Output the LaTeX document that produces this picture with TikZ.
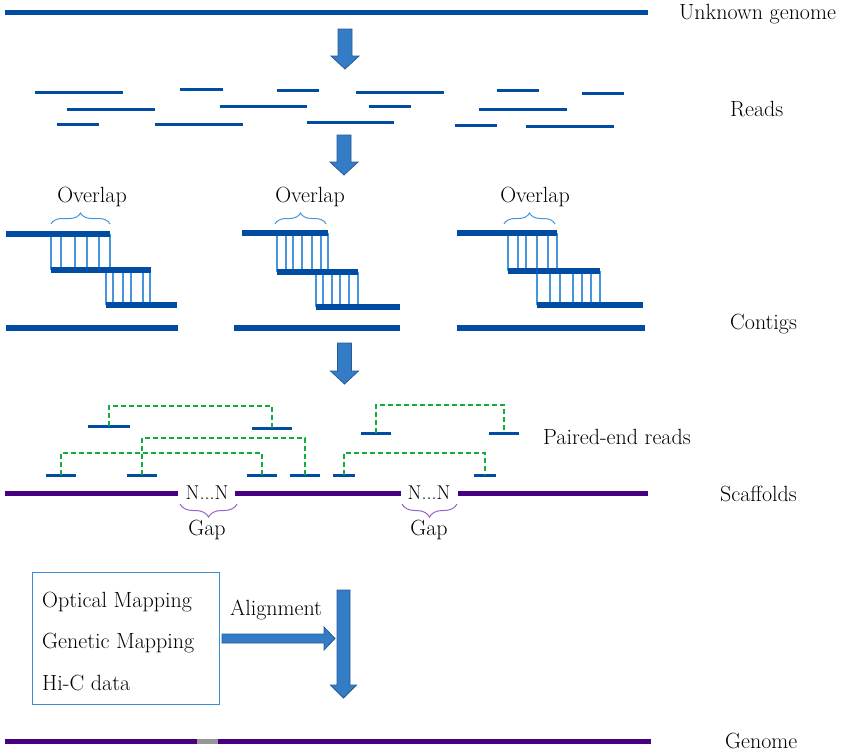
\documentclass[tikz,border=0pt]{standalone}
\usetikzlibrary{decorations.pathreplacing}
\definecolor{rd}{RGB}{0,76,163}
\definecolor{arrfill}{RGB}{52,125,198}
\definecolor{arrdraw}{RGB}{40,90,150}
\definecolor{lb}{RGB}{70,150,220}
\definecolor{pur}{RGB}{72,0,130}
\definecolor{lpur}{RGB}{150,100,200}
\definecolor{pegreen}{RGB}{20,170,60}
\definecolor{gapgray}{RGB}{150,150,150}
\definecolor{boxblue}{RGB}{60,140,210}
\newcommand\vArr[5]{\draw[bigarrow] (#1-#5,#2) -- (#1+#5,#2) -- (#1+#5,#3) -- (#1+2*#5,#3) -- (#1,#4) -- (#1-2*#5,#3) -- (#1-#5,#3) -- cycle;}
\begin{document}
\begin{tikzpicture}[x=1pt,y=-1pt,
 lbl/.style={font=\fontsize{22}{26}\selectfont, inner sep=0pt},
 read/.style={rd, line width=3pt},
 thickread/.style={rd, line width=5.5pt},
 link/.style={lb, line width=1.1pt},
 bigarrow/.style={fill=arrfill, draw=arrdraw, line width=0.8pt, line join=miter},
 pe/.style={pegreen, line width=1.8pt, dash pattern=on 5pt off 3pt},
 scaf/.style={pur, line width=5pt},
 ovbrace/.style={lb, line width=1pt, decorate, decoration={brace, amplitude=11pt}},
 gapbrace/.style={lpur, line width=1pt, decorate, decoration={brace, amplitude=13pt, mirror}},
]
\useasboundingbox (0,0) rectangle (850,753);

% ---------- Unknown genome ----------
\draw[rd, line width=5pt] (5,12) -- (648,12);
\node[lbl, anchor=west] (unk) at (679,14) {Unknown genome};
\vArr{345}{29}{56}{69}{7}

% ---------- Reads ----------
\foreach \a/\b/\y in {35/123/92, 180/223/89, 277/319/90, 356/444/92, 497/539/90, 582/624/93,
  67/155/109, 220/307/106, 369/411/106, 479/567/109,
  57/99/124, 155/243/124, 307/394/122, 455/497/125, 526/614/126}
  \draw[read] (\a,\y) -- (\b,\y);
\node[lbl, anchor=west] (reads) at (730,109) {Reads};
\vArr{344}{135}{162}{175}{7}

% ---------- Contigs ----------
% group 1
\foreach \x in {51,61,75,87,99,110} \draw[link] (\x,234) -- (\x,270);
\foreach \x in {106,113,123,131,143,150} \draw[link] (\x,270) -- (\x,305);
\draw[thickread] (6,234) -- (110,234);
\draw[thickread] (51,270) -- (151,270);
\draw[thickread] (106,305) -- (177,305);
\draw[thickread] (6,328) -- (178,328);
\draw[ovbrace] (51,224) -- (110,224);
\node[lbl] (ov1) at (92,197) {Overlap};
% group 2
\foreach \x in {277,286,293,302,312,321,328} \draw[link] (\x,233) -- (\x,272);
\foreach \x in {316,323,332,340,349,358} \draw[link] (\x,272) -- (\x,307);
\draw[thickread] (242,233) -- (328,233);
\draw[thickread] (277,272) -- (358,272);
\draw[thickread] (316,307) -- (400,307);
\draw[thickread] (234,328) -- (400,328);
\draw[ovbrace] (275,224) -- (326,224);
\node[lbl] (ov2) at (310,197) {Overlap};
% group 3
\foreach \x in {508,518,526,537,548,557} \draw[link] (\x,233) -- (\x,271);
\foreach \x in {537,550,560,573,582,591,600} \draw[link] (\x,271) -- (\x,305);
\draw[thickread] (457,233) -- (557,233);
\draw[thickread] (508,271) -- (600,271);
\draw[thickread] (537,305) -- (643,305);
\draw[thickread] (457,328) -- (645,328);
\draw[ovbrace] (504,224) -- (555,224);
\node[lbl] (ov3) at (535,197) {Overlap};
\node[lbl, anchor=west] (contigs) at (730,324) {Contigs};
\vArr{344.5}{343}{371}{384}{7}

% ---------- Paired-end reads ----------
\foreach \n/\c/\h/\y in {p1/109/21/426, p2/272/20/428, p3/376/15/433, p4/504/15/433,
  m1/142/15/475, m2/305/15/475, l1/61/15/475, l2/262/15/475, r1/344/11/475, r2/485/11/475}{
  \coordinate (\n) at (\c,\y);
  \draw[read] ([xshift=-\h pt]\n) -- ([xshift=\h pt]\n);
}
\draw[pe] (l1) -- ++(0,-22) -| (l2);
\draw[pe] (m1) -- ++(0,-37) -| (m2);
\draw[pe] (r1) -- ++(0,-22) -| (r2);
\draw[pe] (p1) -- ++(0,-20) -| (p2);
\draw[pe] (p3) -- ++(0,-28) -| (p4);
\node[lbl, anchor=west] (pel) at (543,437) {Paired-end reads};

% ---------- Scaffolds ----------
\draw[scaf] (5,493) -- (178,493);
\draw[scaf] (235,493) -- (401,493);
\draw[scaf] (458,493) -- (648,493);
\node[lbl, font=\fontsize{20}{24}\selectfont] (nn1) at (207,493) {N...N};
\node[lbl, font=\fontsize{20}{24}\selectfont] (nn2) at (429,493) {N...N};
\draw[gapbrace] (180,504) -- (237,504);
\draw[gapbrace] (402,504) -- (457,504);
\node[lbl] (gap1) at (207,530) {Gap};
\node[lbl] (gap2) at (429,530) {Gap};
\node[lbl, anchor=west] (scl) at (720,494) {Scaffolds};

% ---------- Box & alignment ----------
\node[draw=boxblue, line width=1pt, minimum width=187pt, minimum height=132pt, inner sep=0pt] (box) at (125.5,638) {};
\node[lbl, anchor=west] (om) at (42,602) {Optical Mapping};
\node[lbl, anchor=west] (gm) at (42,643) {Genetic Mapping};
\node[lbl, anchor=west] (hic) at (42,683) {Hi-C data};
\node[lbl] (align) at (276,610) {Alignment};
\draw[bigarrow] (222,634) -- (324,634) -- (324,627) -- (335,638.5) -- (324,650) -- (324,643) -- (222,643) -- cycle;
\vArr{343.5}{590}{685}{698}{6.5}

% ---------- Genome ----------
\draw[scaf] (5,741) -- (651,741);
\draw[gapgray, line width=5pt] (197,741) -- (218,741);
\node[lbl, anchor=west] (gen) at (725,741) {Genome};
\end{tikzpicture}
\end{document}
